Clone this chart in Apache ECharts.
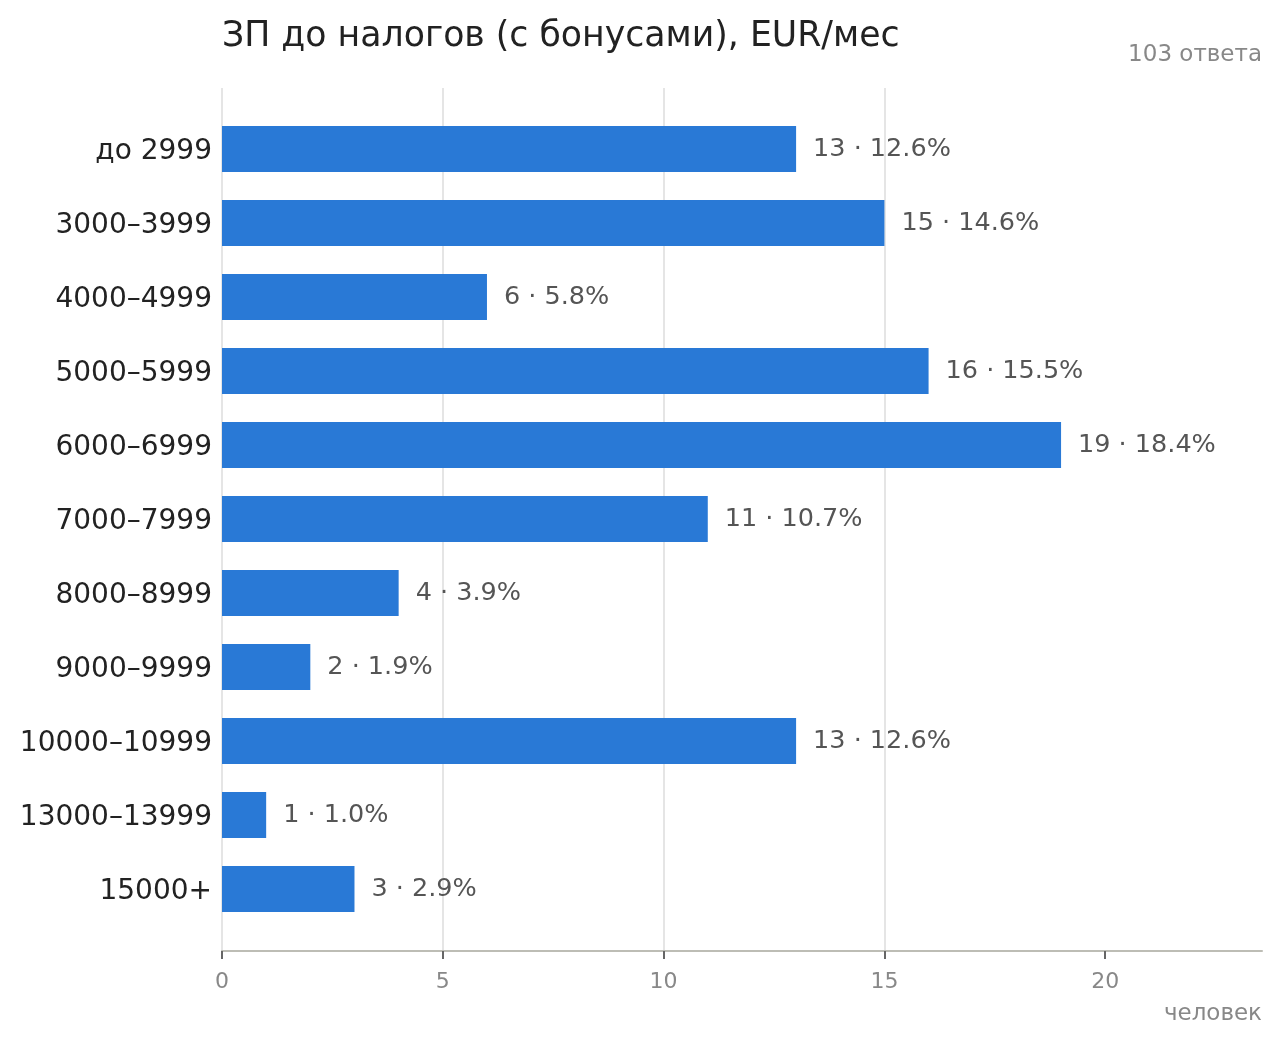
<!DOCTYPE html>
<html>
<head>
<meta charset="utf-8">
<script src="https://cdn.jsdelivr.net/npm/echarts@6/dist/echarts.min.js"></script>
<style>
  html, body { margin: 0; padding: 0; background: #fff; }
  #chart { width: 1280px; height: 1043px; }
</style>
</head>
<body>
<div id="chart"></div>
<script>
const categories = ['до 2999', '3000–3999', '4000–4999', '5000–5999', '6000–6999', '7000–7999',
  '8000–8999', '9000–9999', '10000–10999', '13000–13999', '15000+']
const counts = [13, 15, 6, 16, 19, 11, 4, 2, 13, 1, 3]
const percents = ['12.6', '14.6', '5.8', '15.5', '18.4', '10.7', '3.9', '1.9', '12.6', '1.0', '2.9']
const xTicks = [0, 5, 10, 15, 20]

const font = 'DejaVu Sans'
const xMax = 23.55

let myChart = echarts.init(document.getElementById('chart'))

let option = {
  backgroundColor: '#fff',
  animation: false,
  textStyle: { fontFamily: font },
  title: [{
    text: 'ЗП до налогов (с бонусами), EUR/мес',
    left: 217,
    top: 14,
    textStyle: { fontFamily: font, fontSize: 34.7, fontWeight: 'normal', color: '#222' }
  }, {
    text: '103 ответа',
    right: 13,
    top: 39,
    textStyle: { fontFamily: font, fontSize: 23, fontWeight: 'normal', color: '#888' }
  }, {
    text: 'человек',
    right: 13,
    top: 998,
    textStyle: { fontFamily: font, fontSize: 23, fontWeight: 'normal', color: '#888' }
  }],
  grid: [
    // frame: gridlines + bottom axis
    { left: 222, right: 18, top: 88, bottom: 92 },
    // bars
    { left: 222, right: 18, top: 112, bottom: 117 }
  ],
  xAxis: [{
    gridIndex: 0,
    type: 'value',
    min: 0,
    max: xMax,
    interval: 5,
    axisLine: { show: true, lineStyle: { color: '#bdbdb5', width: 2 } },
    axisTick: { show: true, length: 8, customValues: xTicks, lineStyle: { color: '#666', width: 2 } },
    axisLabel: {
      customValues: xTicks,
      color: '#888',
      fontSize: 22,
      fontFamily: font,
      margin: 20
    },
    splitLine: { show: true, showMaxLine: false, lineStyle: { color: '#dcdcdc', width: 1.5 } }
  }, {
    gridIndex: 1,
    type: 'value',
    min: 0,
    max: xMax,
    show: false,
    splitLine: { show: false }
  }],
  yAxis: [{
    gridIndex: 0,
    type: 'value',
    min: 0,
    max: 1,
    show: false,
    splitLine: { show: false }
  }, {
    gridIndex: 1,
    type: 'category',
    inverse: true,
    data: categories,
    axisLine: { show: false },
    axisTick: { show: false },
    axisLabel: {
      margin: 10,
      formatter: (v) => '{c|' + v + '}',
      rich: {
        c: { color: '#222', fontSize: 28, fontFamily: font, padding: [6, 0, 0, 0] }
      }
    }
  }],
  series: [{
    type: 'bar',
    xAxisIndex: 1,
    yAxisIndex: 1,
    data: counts,
    barWidth: 46,
    itemStyle: { color: '#2979d6' },
    label: {
      show: true,
      position: 'right',
      distance: 17,
      color: '#555',
      fontSize: 25.5,
      fontFamily: font,
      formatter: (p) => p.value + ' · ' + percents[p.dataIndex] + '%'
    }
  }]
}

myChart.setOption(option)
</script>
</body>
</html>
